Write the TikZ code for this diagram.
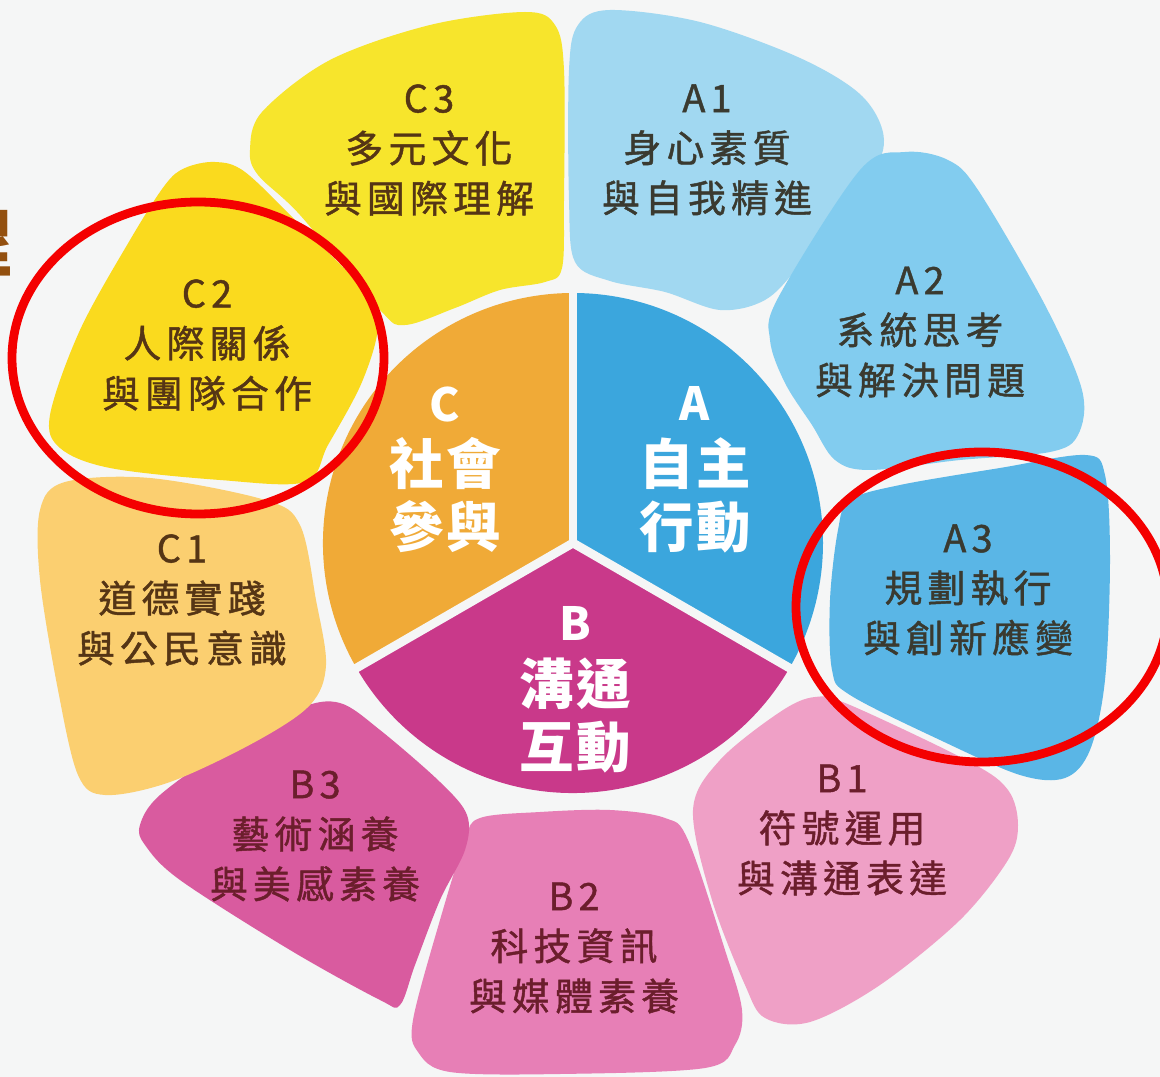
\documentclass[tikz,border=0pt]{standalone}
\usepackage{fontspec}
\newfontfamily\cjk[LetterSpace=14, FakeBold=1.2]{Noto Sans CJK TC}
\newfontfamily\cjkc[LetterSpace=4]{Noto Sans CJK TC}
\definecolor{bgc}{HTML}{F5F6F6}
\definecolor{ringA}{HTML}{3BA6DD}
\definecolor{ringB}{HTML}{C9398A}
\definecolor{ringC}{HTML}{F0AA37}
\definecolor{pA1}{HTML}{A1D8F1}
\definecolor{pA2}{HTML}{82CCEF}
\definecolor{pA3}{HTML}{5AB6E6}
\definecolor{pB1}{HTML}{EFA0C6}
\definecolor{pB2}{HTML}{E77FB6}
\definecolor{pB3}{HTML}{D95B9F}
\definecolor{pC1}{HTML}{FBCF70}
\definecolor{pC2}{HTML}{FADA1E}
\definecolor{pC3}{HTML}{F7E52C}
\definecolor{tA}{HTML}{3A3A30}
\definecolor{tB}{HTML}{6B1E2C}
\definecolor{tC}{HTML}{553515}
\definecolor{brownt}{HTML}{93500F}
\definecolor{mark}{HTML}{F40000}
\tikzset{
  petal/.style={smooth cycle, tension=0.55},
  ptext/.style={font=\cjk\fontsize{21.5}{28.5}\selectfont, align=center, inner sep=0pt},
  ctext/.style={font=\cjkc\bfseries\fontsize{31}{36}\selectfont, align=center, inner sep=0pt, text=white},
  redring/.style={draw=mark, line width=5pt},
  gapline/.style={draw=bgc, line width=5pt}
}
\begin{document}
\begin{tikzpicture}[x=0.02cm,y=-0.02cm]
\useasboundingbox (0,0) rectangle (1160,1077);
\fill[bgc] (0,0) rectangle (1160,1077);
\begin{scope}
\clip (0,0) rectangle (1160,1077);
\node[anchor=east, inner sep=0pt, text=brownt, font=\cjkc\bfseries\fontsize{42}{42}\selectfont] (side) at (14,243) {程};
\end{scope}
\coordinate (O) at (573,543);
% petals
\fill[pA1] plot[petal] coordinates {(575,262) (569,200) (569,70) (578,25) (610,10) (700,22) (800,58) (862,96) (884,140) (865,185) (800,265) (765,300) (720,310) (665,292) (610,281)};
\fill[pA2] plot[petal] coordinates {(770,340) (778,298) (860,170) (905,152) (948,160) (978,190) (1045,305) (1082,390) (1078,435) (1050,452) (960,460) (870,470) (835,460) (812,425) (785,383)};
\fill[pA3] plot[petal] coordinates {(838,530) (850,500) (900,485) (1000,468) (1085,455) (1105,475) (1110,560) (1105,680) (1090,750) (1065,778) (1020,775) (940,740) (850,695) (832,670) (830,600)};
\fill[pB1] plot[petal] coordinates {(693,810) (720,760) (780,712) (815,697) (850,705) (970,762) (1008,790) (1018,825) (1008,860) (960,920) (880,985) (810,1022) (765,1018) (745,985) (712,900)};
\fill[pB2] plot[petal] coordinates {(465,840) (480,818) (540,812) (610,810) (665,818) (688,840) (725,950) (742,1010) (735,1045) (705,1068) (560,1074) (450,1072) (418,1052) (413,1020) (440,920)};
\fill[pB3] plot[petal] coordinates {(140,825) (160,795) (230,745) (300,708) (340,703) (380,730) (440,782) (467,815) (465,850) (440,900) (415,965) (400,1005) (380,1000) (290,950) (180,880) (145,845)};
\fill[pC1] plot[petal] coordinates {(40,510) (65,482) (150,478) (265,500) (300,525) (316,600) (326,665) (310,705) (255,742) (170,782) (105,795) (78,775) (58,690) (40,580)};
\fill[pC2] plot[petal] coordinates {(185,168) (215,162) (245,172) (300,225) (362,288) (378,325) (362,382) (328,445) (305,482) (220,480) (110,468) (60,448) (50,415) (80,330) (130,240) (165,185)};
\fill[pC3] plot[petal] coordinates {(250,150) (262,112) (330,60) (430,25) (525,12) (555,25) (564,70) (564,200) (562,268) (545,282) (500,290) (455,308) (405,325) (380,310) (300,215) (258,175)};
% centre ring
\fill[ringA] (O) -- ++(-90:250) arc[start angle=-90, end angle=30, radius=250] -- cycle;
\fill[ringB] (O) -- ++(30:250) arc[start angle=30, end angle=150, radius=250] -- cycle;
\fill[ringC] (O) -- ++(150:250) arc[start angle=150, end angle=270, radius=250] -- cycle;
\draw[gapline] (O) -- ++(-90:256);
\draw[gapline] (O) -- ++(30:256);
\draw[gapline] (O) -- ++(150:256);
% centre texts
\node[ctext] (cA) at (695,470) {{\fontsize{26}{36}\selectfont A}\\自主\\行動};
\node[ctext] (cB) at (575,690) {{\fontsize{26}{36}\selectfont B}\\溝通\\互動};
\node[ctext] (cC) at (445,470) {{\fontsize{26}{36}\selectfont C}\\社會\\參與};
% petal texts
\node[ptext, text=tC] (tC3) at (429,150) {C3\\多元文化\\與國際理解};
\node[ptext, text=tA] (tA1) at (707,150) {A1\\身心素質\\與自我精進};
\node[ptext, text=tA] (tA2) at (920,332) {A2\\系統思考\\與解決問題};
\node[ptext, text=tA] (tA3) at (968,590) {A3\\規劃執行\\與創新應變};
\node[ptext, text=tB] (tB1) at (842,830) {B1\\符號運用\\與溝通表達};
\node[ptext, text=tB] (tB2) at (574,948) {B2\\科技資訊\\與媒體素養};
\node[ptext, text=tB] (tB3) at (315,836) {B3\\藝術涵養\\與美感素養};
\node[ptext, text=tC] (tC1) at (182,600) {C1\\道德實踐\\與公民意識};
\node[ptext, text=tC] (tC2) at (207,345) {C2\\人際關係\\與團隊合作};
% red marks
\begin{scope}
\clip (0,0) rectangle (1160,1077);
\draw[redring] (198,358) ellipse [x radius=186, y radius=156];
\draw[redring] (982,607) ellipse [x radius=186, y radius=155];
\end{scope}
\end{tikzpicture}
\end{document}
